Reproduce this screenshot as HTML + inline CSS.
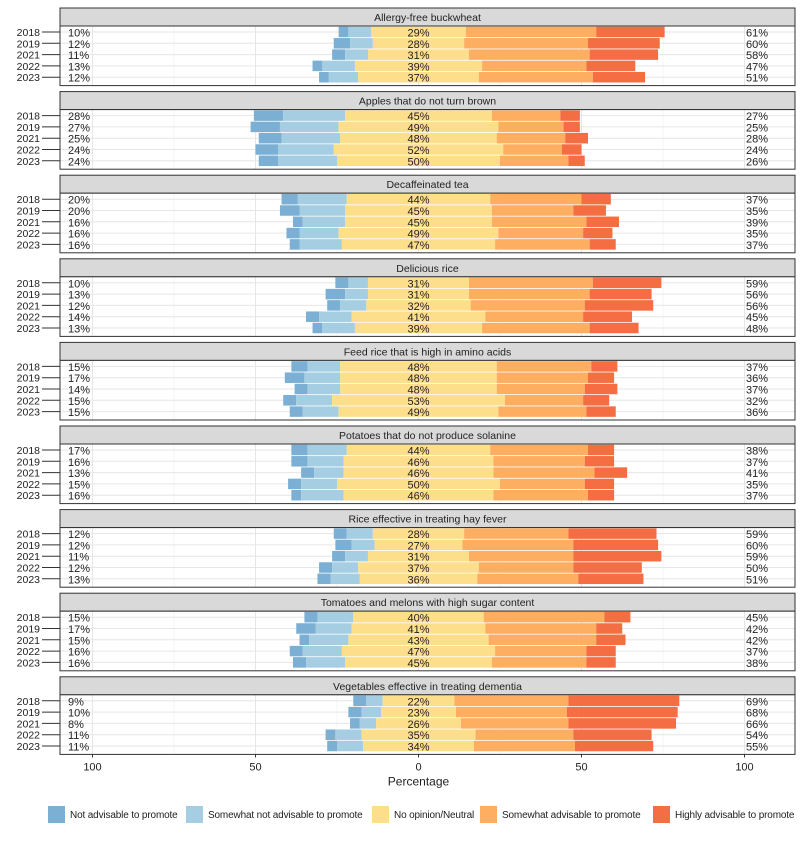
<!DOCTYPE html>
<html><head><meta charset="utf-8"><style>
body{margin:0;background:#fff;width:800px;height:837px;overflow:hidden;font-family:"Liberation Sans",sans-serif}
svg text{font-family:"Liberation Sans",sans-serif}
</style></head><body>
<svg id="chart" width="800" height="837" xmlns="http://www.w3.org/2000/svg"></svg>
<script>
const panels=["Allergy-free buckwheat","Apples that do not turn brown","Decaffeinated tea","Delicious rice","Feed rice that is high in amino acids","Potatoes that do not produce solanine","Rice effective in treating hay fever","Tomatoes and melons with high sugar content","Vegetables effective in treating dementia"];
const years=["2018","2019","2021","2022","2023"];
const notAdv=[[3,5,4,3,3],[9,9,7,7,6],[5,6,3,4,3],[4,6,4,4,3],[5,6,4,4,4],[5,5,4,4,3],[4,5,4,4,4],[4,6,3,4,4],[4,4,3,3,3]];
const someNot=[[7,7,7,10,9],[19,18,18,17,18],[15,14,13,12,13],[6,7,8,10,10],[10,11,10,11,11],[12,11,9,11,13],[8,7,7,8,9],[11,11,12,12,12],[5,6,5,8,8]];
const neutral=[[29,28,31,39,37],[45,49,48,52,50],[44,45,45,49,47],[31,31,32,41,39],[48,48,48,53,49],[44,46,46,50,46],[28,27,31,37,36],[40,41,43,47,45],[22,23,26,35,34]];
const someAdv=[[40,38,37,32,35],[21,20,21,18,21],[28,25,29,26,29],[38,37,35,30,33],[29,28,27,24,27],[30,28,31,26,29],[32,34,32,29,31],[37,34,33,28,29],[35,34,33,30,31]];
const highAdv=[[21,22,21,15,16],[6,5,7,6,5],[9,10,10,9,8],[21,19,21,15,15],[8,8,10,8,9],[8,9,10,9,8],[27,26,27,21,20],[8,8,9,9,9],[34,34,33,24,24]];
const leftPct=[[10,12,11,13,12],[28,27,25,24,24],[20,20,16,16,16],[10,13,12,14,13],[15,17,14,15,15],[17,16,13,15,16],[12,12,11,12,13],[15,17,15,16,16],[9,10,8,11,11]];
const rightPct=[[61,60,58,47,51],[27,25,28,24,26],[37,35,39,35,37],[59,56,56,45,48],[37,36,37,32,36],[38,37,41,35,37],[59,60,59,50,51],[45,42,42,37,38],[69,68,66,54,55]];
const xTicks=[-100,-50,0,50,100];
const xTickLabels=["100","50","0","50","100"];
const legendLabels=["Not advisable to promote","Somewhat not advisable to promote","No opinion/Neutral","Somewhat advisable to promote","Highly advisable to promote"];

const colors=["#7bafd4","#a6cee3","#fddf8b","#fdae61","#f46d43"];
const svg=document.getElementById('chart');
const NS="http://www.w3.org/2000/svg";
const X0=60,X1=795;
const xs=v=>418.5+v*3.26;
const PT=8,PP=83.6,SH=18,RH=11.3,BH=10.5;
function mk(t,a,p){const e=document.createElementNS(NS,t);for(const k in a)e.setAttribute(k,a[k]);(p||svg).appendChild(e);return e;}
function txt(x,y,s,anchor,size,p){const e=mk('text',{x:x,y:y,'text-anchor':anchor,'font-size':size,fill:'#222'},p);e.textContent=s;return e;}

panels.forEach((name,pi)=>{
  const g=mk('g',{});
  
  
  const top=PT+pi*PP;
  const pb=top+SH, pe=top+PP-6;
  const strip=mk('rect',{x:X0,y:top,width:X1-X0,height:SH,fill:'#d9d9d9',stroke:'#333','stroke-width':1},g);
  
  
  const st=txt((X0+X1)/2,top+13,name,'middle',10.5,g);
  
  
  mk('rect',{x:X0,y:pb,width:X1-X0,height:pe-pb,fill:'#fff'},g);
  [-75,-25,25,75].forEach(v=>mk('line',{x1:xs(v),x2:xs(v),y1:pb,y2:pe,stroke:'#f0f0f0','stroke-width':0.6},g));
  xTicks.forEach(v=>mk('line',{x1:xs(v),x2:xs(v),y1:pb,y2:pe,stroke:'#e6e6e6','stroke-width':1},g));
  years.forEach((yr,yi)=>{
    const cy=pb+6+yi*RH;
    mk('line',{x1:X0,x2:X1,y1:cy,y2:cy,stroke:'#e6e6e6','stroke-width':1},g);
    const vals=[notAdv[pi][yi],someNot[pi][yi],neutral[pi][yi],someAdv[pi][yi],highAdv[pi][yi]];
    let start=-neutral[pi][yi]/2-someNot[pi][yi]-notAdv[pi][yi];
    vals.forEach((v,ci)=>{
      const r=mk('rect',{x:xs(start),y:cy-BH/2,width:v*3.26,height:BH,fill:colors[ci]},g);
      
      
      start+=v;
    });
    const yl=txt(40,cy+4,yr,'end',10.5,g);
    
    
    mk('line',{x1:42,x2:X0,y1:cy,y2:cy,stroke:'#333','stroke-width':1},g);
    const lp=txt(68,cy+4.5,leftPct[pi][yi]+'%','start',11,g);
    
    
    const np=txt(xs(0),cy+4.5,neutral[pi][yi]+'%','middle',11,g);
    
    
    const rp=txt(746,cy+4.5,rightPct[pi][yi]+'%','start',11,g);
    
    
  });
  mk('rect',{x:X0,y:pb,width:X1-X0,height:pe-pb,fill:'none',stroke:'#333','stroke-width':1},g);
});
const lastBottom=PT+8*PP+PP-6;
xTicks.forEach((v,i)=>{
  mk('line',{x1:xs(v),x2:xs(v),y1:lastBottom,y2:lastBottom+3,stroke:'#333'});
  const t=txt(xs(v),lastBottom+16,xTickLabels[i],'middle',11);
  
  
});
const xt=txt(xs(0),lastBottom+31,'Percentage','middle',12);


const legX=[48,186,372,480,653];
legendLabels.forEach((l,i)=>{
  const g=mk('g',{});
  
  
  mk('rect',{x:legX[i],y:806,width:17,height:17,fill:colors[i]},g);
  const t=txt(legX[i]+22,818,l,'start',10,g);
  t.setAttribute('letter-spacing','-0.15');
});
</script>
</body></html>
